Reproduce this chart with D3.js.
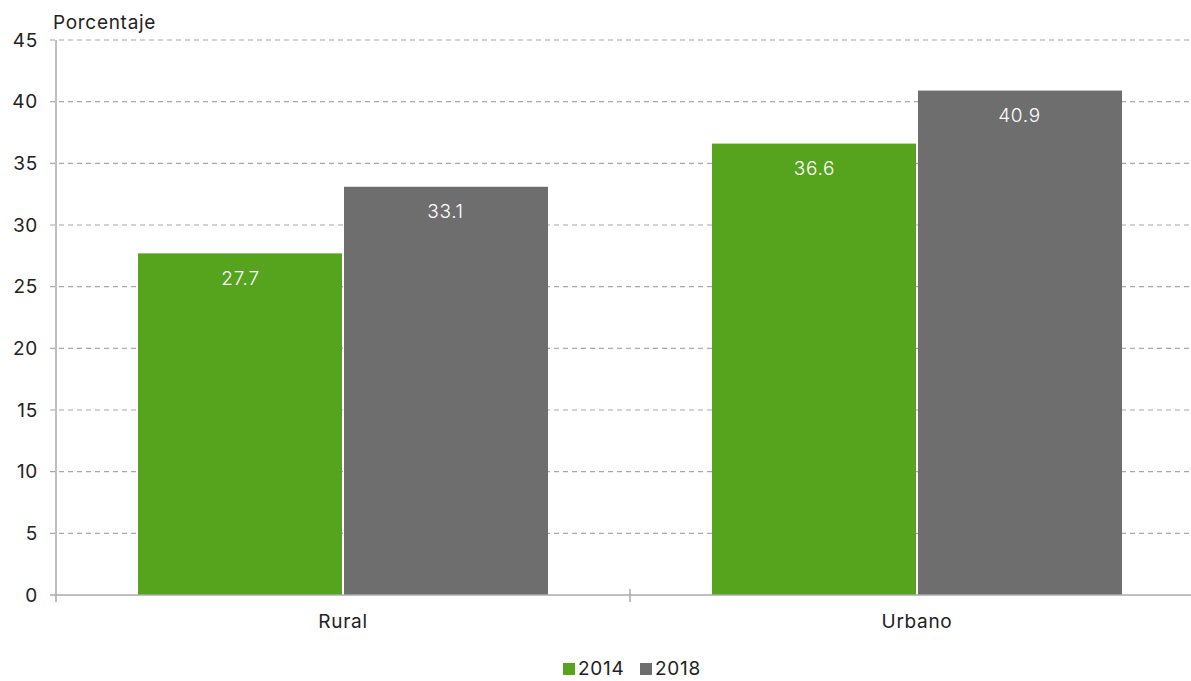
<!DOCTYPE html>
<html>
<head>
<meta charset="utf-8">
<script src="https://cdn.jsdelivr.net/npm/d3@7"></script>
<style>
  body { margin: 0; background: #fff; }
  svg text { font-family: Inter, "Open Sans", sans-serif; fill: #222; letter-spacing: 0.7px; }
</style>
</head>
<body>
<div id="chart"></div>
<script>
// Data
const categories = ['Rural', 'Urbano'];
const years = ['2014', '2018'];
const values2014 = [27.7, 36.6];
const values2018 = [33.1, 40.9];
const yTicks = [0, 5, 10, 15, 20, 25, 30, 35, 40, 45];
const colors = { '2014': '#56a31e', '2018': '#6e6e6e' };

const W = 1191, H = 681;
const mLeft = 56, mRight = 1191, mTop = 40, mBottom = 595;

const svg = d3.select('#chart').append('svg')
  .attr('width', W).attr('height', H);

const x = d3.scaleBand().domain(categories).range([mLeft, mLeft + 2 * 574]);
const xInner = d3.scaleBand().domain(years).range([0, x.bandwidth()]).paddingInner(0).paddingOuter(0.4);
const y = d3.scaleLinear().domain([0, 45]).range([mBottom, mTop]);

// Gridlines
svg.append('g').selectAll('line')
  .data(yTicks.filter(t => t > 0))
  .join('line')
  .attr('x1', mLeft - 6).attr('x2', mRight)
  .attr('y1', d => y(d)).attr('y2', d => y(d))
  .attr('stroke', '#a8a8a8').attr('stroke-width', 1.2)
  .attr('stroke-dasharray', '5,4');

// Y tick labels
svg.append('g').selectAll('text')
  .data(yTicks).join('text')
  .attr('x', 38).attr('y', d => y(d))
  .attr('dy', '0.35em')
  .attr('text-anchor', 'end')
  .style('font-size', '19px')
  .text(d => d);

svg.append('text')
  .attr('x', 53).attr('y', 29)
  .style('font-size', '19px')
  .text('Porcentaje');

// Bars
const rows = categories.map((c, i) => ({ cat: c, vals: [values2014[i], values2018[i]] }));
const groups = svg.append('g').selectAll('g')
  .data(rows).join('g')
  .attr('transform', d => `translate(${x(d.cat)},0)`);

const bars = groups.selectAll('g')
  .data(d => years.map((yr, j) => ({ yr, v: d.vals[j] })))
  .join('g');

bars.append('rect')
  .attr('x', d => xInner(d.yr) + (d.yr === '2018' ? 1 : 0))
  .attr('width', d => xInner.bandwidth() - 1)
  .attr('y', d => y(d.v))
  .attr('height', d => mBottom - y(d.v))
  .attr('fill', d => colors[d.yr]);

bars.append('text')
  .attr('x', d => xInner(d.yr) + xInner.bandwidth() / 2)
  .attr('y', d => y(d.v) + 25)
  .attr('dy', '0.35em')
  .attr('text-anchor', 'middle')
  .style('font-size', '19px')
  .style('font-weight', 300)
  .style('fill', '#fff')
  .text(d => d.v.toFixed(1));

// Axes lines
svg.append('line')
  .attr('x1', mLeft).attr('x2', mLeft)
  .attr('y1', mTop).attr('y2', mBottom + 7)
  .attr('stroke', '#aaa').attr('stroke-width', 1.5);
svg.append('line')
  .attr('x1', mLeft - 6).attr('x2', mRight)
  .attr('y1', mBottom).attr('y2', mBottom)
  .attr('stroke', '#aaa').attr('stroke-width', 1.5);
svg.append('line')
  .attr('x1', x('Urbano')).attr('x2', x('Urbano'))
  .attr('y1', mBottom - 6).attr('y2', mBottom + 7)
  .attr('stroke', '#aaa').attr('stroke-width', 1.5);

// Category labels
svg.append('g').selectAll('text')
  .data(categories).join('text')
  .attr('x', d => x(d) + x.bandwidth() / 2)
  .attr('y', 621).attr('dy', '0.35em')
  .attr('text-anchor', 'middle')
  .style('font-size', '19px')
  .text(d => d);

// Legend
const legendX = [563, 640];
const legend = svg.append('g').selectAll('g')
  .data(years).join('g')
  .attr('transform', (d, i) => `translate(${legendX[i]},668)`);
legend.append('rect')
  .attr('x', 0).attr('y', -5).attr('width', 12).attr('height', 12)
  .attr('fill', d => colors[d]);
legend.append('text')
  .attr('x', 15).attr('y', 0).attr('dy', '0.35em')
  .style('font-size', '19px')
  .text(d => d);
</script>
</body>
</html>
